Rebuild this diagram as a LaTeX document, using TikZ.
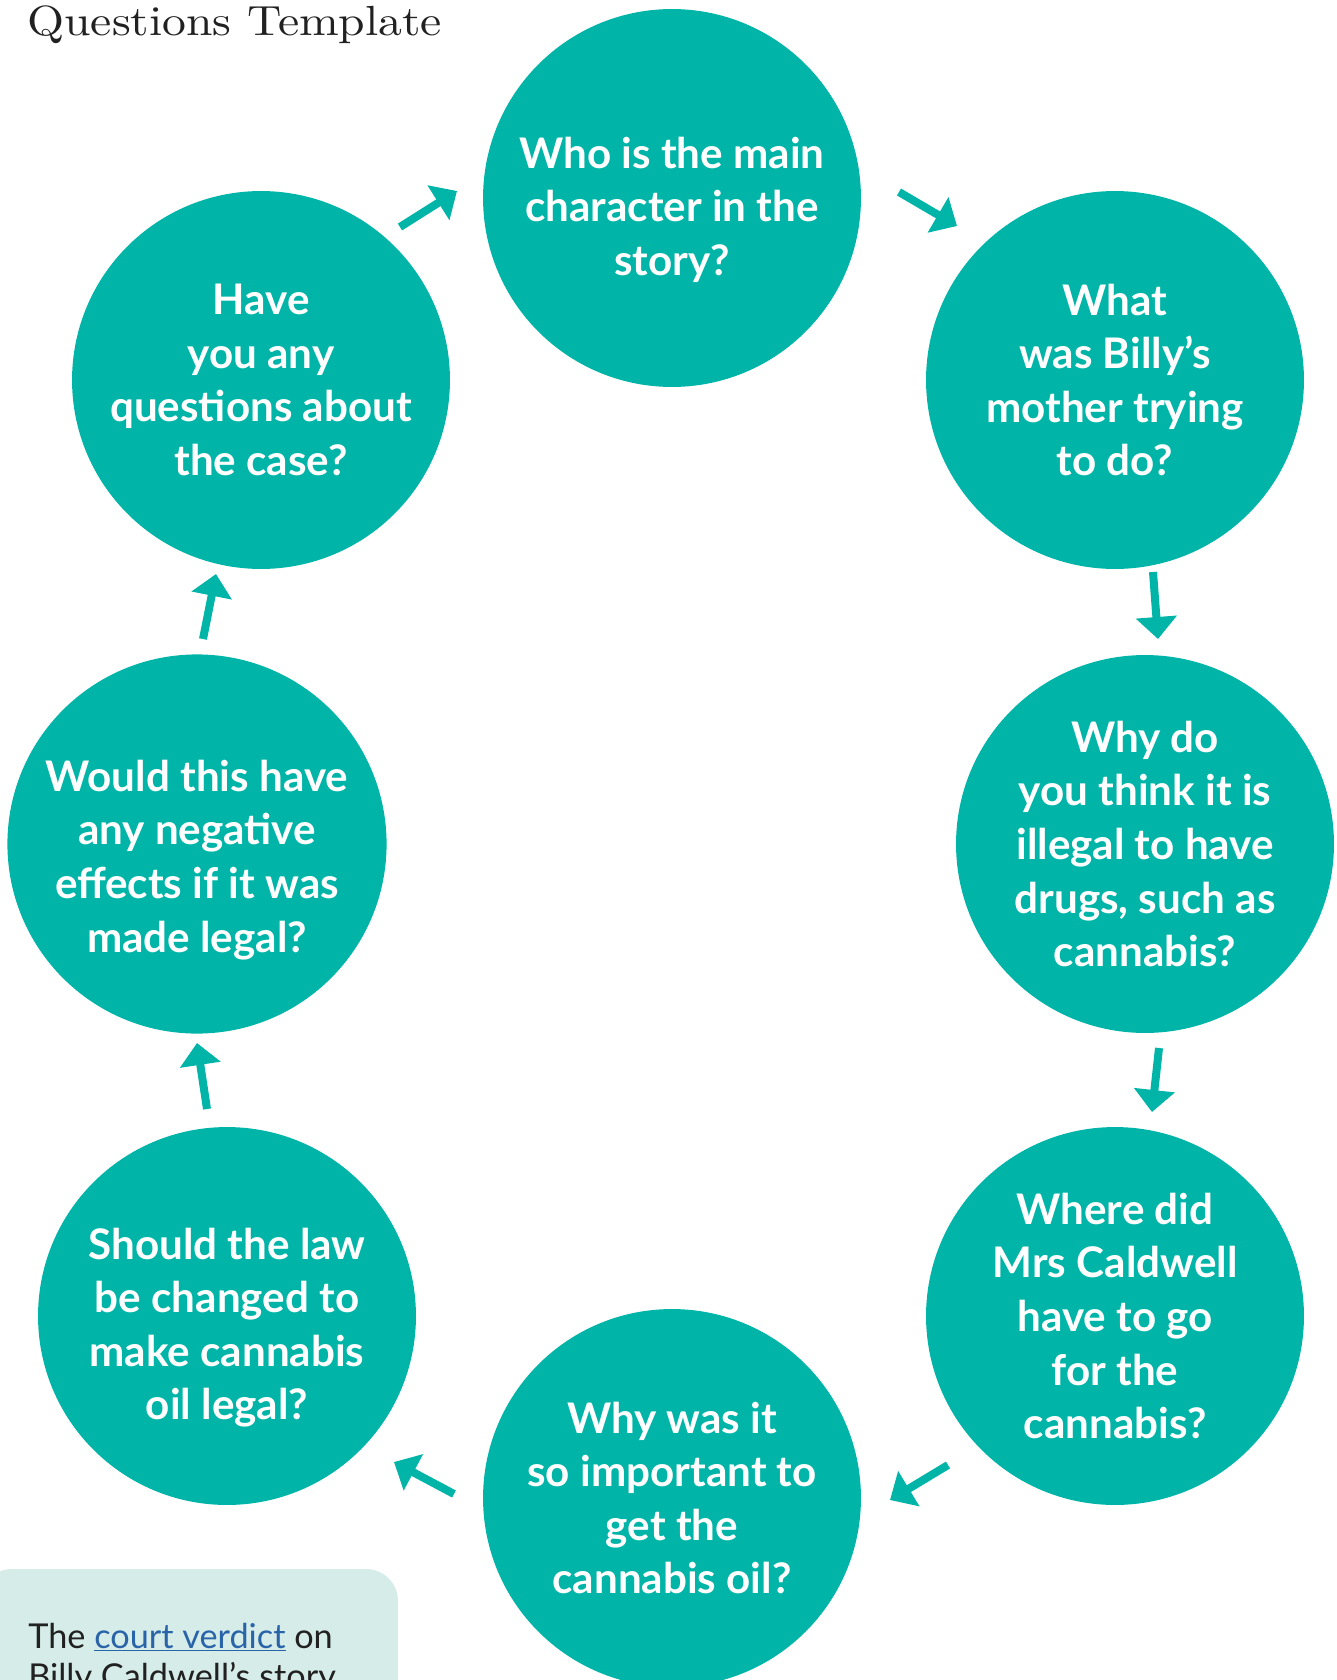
\documentclass[tikz,border=0pt]{standalone}
\usepackage{fontspec}
\setsansfont{Lato}
\newfontfamily\titlefont[FakeStretch=1.13]{lmroman10-regular.otf}
\usepackage{tikz}
\usetikzlibrary{arrows.meta}
\definecolor{qteal}{rgb}{0, 0.709804, 0.658824}
\definecolor{qmint}{rgb}{0.835294, 0.92549, 0.913725}
\definecolor{qlink}{rgb}{0.164706, 0.392157, 0.658824}
\definecolor{qtext}{rgb}{0.133333, 0.129412, 0.129412}
\tikzset{question/.style={circle, fill=qteal, inner sep=0pt, minimum size=7.56cm, text=white, align=center, font=\sffamily\bfseries\fontsize{24}{30.5}\selectfont}}
\tikzset{flow/.style={line width=0.16cm, color=qteal, -{Triangle[width=0.8cm, length=0.44cm]}}}

\begin{document}
\begin{tikzpicture}[x=0.02cm, y=-0.02cm]%{{{
        \useasboundingbox (0, 0) rectangle (1336, 1680);

        \node[anchor=base west, inner sep=0pt, text=qtext, font=\titlefont\fontsize{24}{30}\selectfont] (title) at (27, 35) {Questions Template};

        \node[question, text height=92pt] (Q1) at (672, 198) {Who is the main\\character in the\\story?};
        \node[question] (Q2) at (1115, 380) {What\\was Billy’s\\mother trying\\to do?};
        \node[question] (Q3) at (1145, 844) {Why do\\you think it is\\illegal to have\\drugs, such as\\cannabis?};
        \node[question] (Q4) at (1115, 1316) {Where did\\Mrs Caldwell\\have to go\\for the\\cannabis?};
        \node[question] (Q5) at (672, 1498) {Why was it\\so important to\\get the\\cannabis oil?};
        \node[question, text height=122.6pt] (Q6) at (227, 1316) {Should the law\\be changed to\\make cannabis\\oil legal?};
        \node[question, text height=127.4pt] (Q7) at (197, 844) {Would this have\\any negative\\effects if it was\\made legal?};
        \node[question] (Q8) at (261, 380) {Have\\you any\\questions about\\the case?};

        \coordinate (A1s) at (400, 227);  \coordinate (A1e) at (457, 191);
        \coordinate (A2s) at (899, 192);  \coordinate (A2e) at (957, 226);
        \coordinate (A3s) at (1153, 572); \coordinate (A3e) at (1158, 639);
        \coordinate (A4s) at (1159, 1048); \coordinate (A4e) at (1152, 1112);
        \coordinate (A5s) at (948, 1465); \coordinate (A5e) at (890, 1500);
        \coordinate (A6s) at (454, 1494); \coordinate (A6e) at (394, 1462);
        \coordinate (A7s) at (207, 1109); \coordinate (A7e) at (197, 1043);
        \coordinate (A8s) at (203, 639);  \coordinate (A8e) at (216, 574);

        \draw [flow] (A1s) -- (A1e);
        \draw [flow] (A2s) -- (A2e);
        \draw [flow] (A3s) -- (A3e);
        \draw [flow] (A4s) -- (A4e);
        \draw [flow] (A5s) -- (A5e);
        \draw [flow] (A6s) -- (A6e);
        \draw [flow] (A7s) -- (A7e);
        \draw [flow] (A8s) -- (A8e);

        \fill [qmint, rounded corners=0.64cm] (-20, 1569) rectangle (398, 1740);
        \node[anchor=base west, inner sep=0pt, align=left, text=qtext, font=\sffamily\fontsize{19.5}{23}\selectfont] (note) at (28, 1688.5)
        {The {\color{qlink}\underline{court verdict}} on\\Billy Caldwell’s story};

   \end{tikzpicture}
\end{document}
